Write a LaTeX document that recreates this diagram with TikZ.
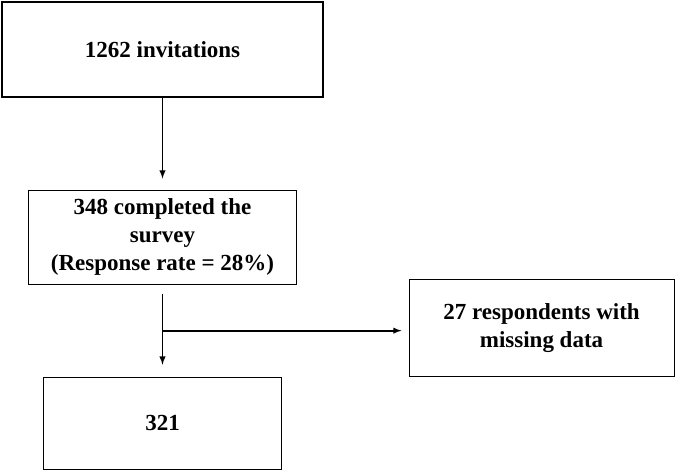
\documentclass[tikz,border=0pt]{standalone}
\usepackage{fontspec}
\setmainfont{Liberation Serif}
\usetikzlibrary{positioning,arrows}

\begin{document}
\begin{tikzpicture}[
  node distance=92pt and 246pt,
  box/.style={draw, line width=1.1pt, align=center, inner sep=0pt,
    font=\bfseries\fontsize{23}{28}\selectfont},
  link/.style={line width=1.8pt}
]
\useasboundingbox (0,0) rectangle (675pt,-469pt);

\node[box, minimum width=321pt, minimum height=95pt] (inv) at (162.5pt,-49.5pt) {1262 invitations};
\node[box, minimum width=268pt, minimum height=94pt, below=of inv] (done) {348 completed the\\survey\\(Response rate = 28\%)};
\node[box, minimum width=238pt, minimum height=92pt, below=of done] (final) {321};
\coordinate[below=46pt of done] (split);
\node[box, minimum width=265pt, minimum height=97pt, right=of split, yshift=2.5pt] (miss) {27 respondents with\\missing data};

\path
(inv) edge[link, -latex, shorten >=11pt] (done)
(done) edge[link, shorten <=9pt] (split)
(split) edge[link, -latex, shorten >=12pt] (final)
(split) edge[link, -latex, shorten >=7pt] (miss.west |- split)
;

\end{tikzpicture}
\end{document}
